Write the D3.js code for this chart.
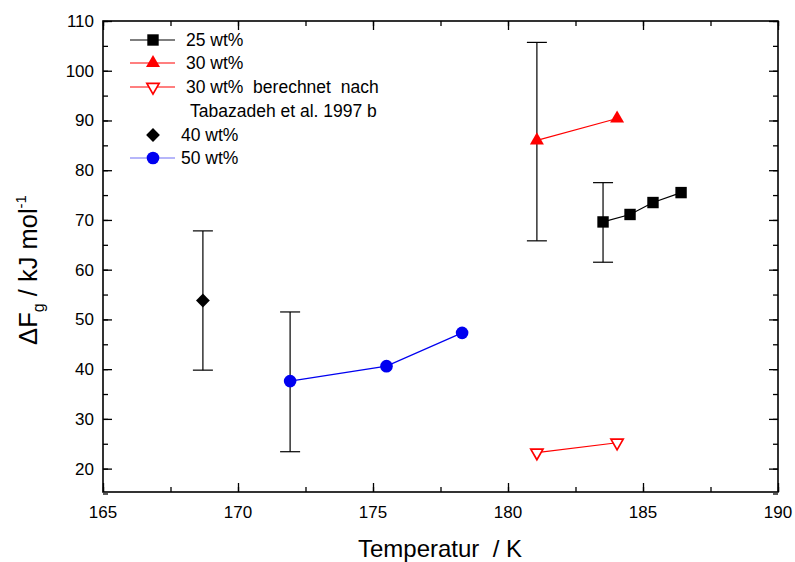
<!DOCTYPE html>
<html><head><meta charset="utf-8">
<script src="https://cdn.jsdelivr.net/npm/d3@7"></script>
<style>body{margin:0;background:#fff}svg{display:block}text{font-family:"Liberation Sans",Arial,sans-serif;white-space:pre}</style>
</head><body>
<script>
const xTicks = [165,170,175,180,185,190];
const yTicks = [20,30,40,50,60,70,80,90,100,110];

const s25T = [183.52,184.52,185.37,186.41];
const s25V = [69.6,71.1,73.5,75.5];
const s30T = [181.07,184.04];
const s30V = [86.0,90.4];
const s30cT = [181.07,184.04];
const s30cV = [23.2,25.2];
const s40T = [168.7];
const s40V = [53.8];
const s50T = [171.93,175.5,178.3];
const s50V = [37.6,40.6,47.3];

// error bars: [T, low, high]
const errT = [168.7,171.93,181.07,183.52];
const errLow = [39.8,23.4,65.8,61.5];
const errHigh = [67.8,51.5,105.7,77.5];

const W=795,H=562;
const m={l:103,r:778,t:21,b:492};
const svg=d3.select("body").append("svg").attr("width",W).attr("height",H);
const x=d3.scaleLinear().domain([165,190]).range([m.l,m.r]);
const y=d3.scaleLinear().domain([15.3,110]).range([m.b,m.t]);

const minorX=d3.range(165,190.01,2.5);
const minorY=d3.range(15,110.01,5);

function mkAxis(gen, scale, vals, size, transform){
  svg.append("g").attr("transform",transform)
    .call(gen(scale).tickValues(vals).tickSize(size).tickFormat(""))
    .call(g=>g.select(".domain").remove())
    .call(g=>g.selectAll("line").attr("stroke","#000").attr("stroke-width",1.3));
}
mkAxis(d3.axisTop,x,minorX,5,`translate(0,${m.b})`);
mkAxis(d3.axisTop,x,xTicks,9,`translate(0,${m.b})`);
mkAxis(d3.axisBottom,x,minorX,5,`translate(0,${m.t})`);
mkAxis(d3.axisBottom,x,xTicks,9,`translate(0,${m.t})`);
mkAxis(d3.axisRight,y,minorY,5,`translate(${m.l},0)`);
mkAxis(d3.axisRight,y,yTicks,9,`translate(${m.l},0)`);
mkAxis(d3.axisLeft,y,minorY,5,`translate(${m.r},0)`);
mkAxis(d3.axisLeft,y,yTicks,9,`translate(${m.r},0)`);

svg.append("rect").attr("x",m.l).attr("y",m.t).attr("width",m.r-m.l).attr("height",m.b-m.t)
  .attr("fill","none").attr("stroke","#000").attr("stroke-width",1.6);

svg.append("g").selectAll("text").data(xTicks).join("text")
  .attr("x",d=>x(d)).attr("y",m.b+26).attr("text-anchor","middle")
  .attr("font-size",17).text(d=>d);
svg.append("g").selectAll("text").data(yTicks).join("text")
  .attr("x",m.l-9).attr("y",d=>y(d)+6).attr("text-anchor","end")
  .attr("font-size",17).text(d=>d);

svg.append("text").attr("x",440).attr("y",557).attr("text-anchor","middle")
  .attr("font-size",24).text("Temperatur  / K");
const yl=svg.append("text").attr("transform","translate(37,270) rotate(-90)")
  .attr("text-anchor","middle").attr("font-size",25.5);
yl.append("tspan").text("ΔF");
yl.append("tspan").attr("font-size",16).attr("dy",7).text("g");
yl.append("tspan").attr("dy",-7).text(" / kJ mol");
yl.append("tspan").attr("font-size",15).attr("dy",-11).text("-1");

const eb=svg.append("g").attr("stroke","#000").attr("stroke-width",1.2);
errT.forEach((t,i)=>{
  const cx=x(t);
  eb.append("line").attr("x1",cx).attr("x2",cx).attr("y1",y(errLow[i])).attr("y2",y(errHigh[i]));
  eb.append("line").attr("x1",cx-10).attr("x2",cx+10).attr("y1",y(errLow[i])).attr("y2",y(errLow[i]));
  eb.append("line").attr("x1",cx-10).attr("x2",cx+10).attr("y1",y(errHigh[i])).attr("y2",y(errHigh[i]));
});

const line=d3.line().x(d=>x(d[0])).y(d=>y(d[1]));
function symTransform(sym,fill){
  if(sym===d3.symbolTriangle&&fill==="none") return " rotate(180)";
  if(sym==="diamond") return " rotate(45)";
  return "";
}
function symPath(sym,size){ return d3.symbol(sym==="diamond"?d3.symbolSquare:sym,size)(); }
function series(T,V,color,sym,size,fill){
  const pts=T.map((t,i)=>[t,V[i]]);
  if(pts.length>1) svg.append("path").attr("d",line(pts)).attr("fill","none").attr("stroke",color).attr("stroke-width",1.2);
  svg.append("g").selectAll("path").data(pts).join("path")
    .attr("d",symPath(sym,size)).attr("transform",d=>`translate(${x(d[0])},${y(d[1])})`+symTransform(sym,fill))
    .attr("fill",fill==="none"?"#fff":fill).attr("stroke",fill==="none"?color:"none").attr("stroke-width",1.7);
}
series(s25T,s25V,"#000",d3.symbolSquare,130,"#000");
series(s30T,s30V,"#f00",d3.symbolTriangle,85,"#f00");
series(s30cT,s30cV,"#f00",d3.symbolTriangle,65,"none");
series(s40T,s40V,"#000","diamond",95,"#000");
series(s50T,s50V,"#0000f0",d3.symbolCircle,125,"#0000f0");

const legend=[
  {label:"25 wt%",color:"#000",sym:d3.symbolSquare,size:130,fill:"#000",line:true,y:40,tx:186},
  {label:"30 wt%",color:"#f00",sym:d3.symbolTriangle,size:85,fill:"#f00",line:true,y:63,tx:186},
  {label:"30 wt%  berechnet  nach",color:"#f00",sym:d3.symbolTriangle,size:65,fill:"none",line:true,y:87,tx:186},
  {label:"Tabazadeh et al. 1997 b",color:null,y:111,tx:190},
  {label:"40 wt%",color:"#000",sym:"diamond",size:95,fill:"#000",line:false,y:135,tx:181},
  {label:"50 wt%",color:"#6f6ff5",sym:d3.symbolCircle,size:125,fill:"#0000f0",line:true,y:158,tx:181}
];
const lg=svg.append("g");
legend.forEach(d=>{
  if(d.color){
    if(d.line) lg.append("line").attr("x1",130).attr("x2",175).attr("y1",d.y).attr("y2",d.y).attr("stroke",d.color).attr("stroke-width",1.2);
    lg.append("path").attr("d",symPath(d.sym,d.size))
      .attr("transform",`translate(153,${d.y})`+symTransform(d.sym,d.fill))
      .attr("fill",d.fill==="none"?"#fff":d.fill).attr("stroke",d.fill==="none"?d.color:"none").attr("stroke-width",1.7);
  }
  lg.append("text").attr("x",d.tx).attr("y",d.y+6).attr("font-size",17.5).text(d.label);
});
</script>
</body></html>
